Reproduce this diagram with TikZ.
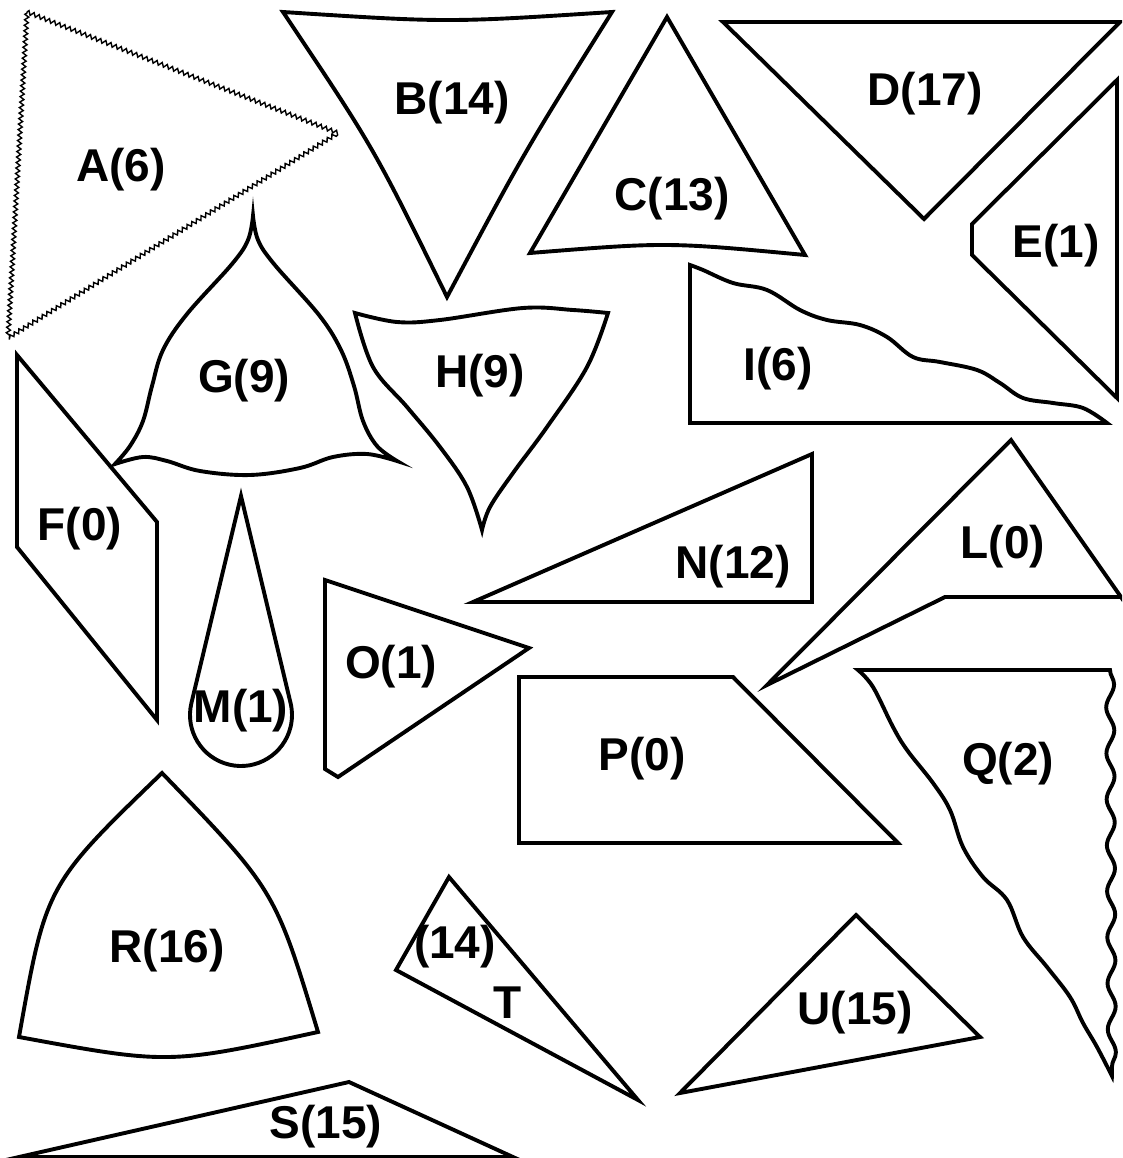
\documentclass[tikz,border=0pt]{standalone}
\usepackage{fontspec}
\setmainfont{Liberation Sans}
\usetikzlibrary{decorations.pathmorphing}
\tikzset{
  shp/.style={draw=black, line width=3.9pt, line join=miter, miter limit=12},
  zig/.style={draw=black, line width=1.4pt, decorate, decoration={zigzag, amplitude=2pt, segment length=5.5pt}},
  lbl/.style={font=\fontsize{46}{52}\selectfont\bfseries, inner sep=0pt, text=black}
}
\begin{document}
\begin{tikzpicture}[x=1pt, y=-1pt]
\useasboundingbox (0,0) rectangle (1122,1158);
\fill[white] (0,0) rectangle (1122,1158);
\clip (0,0) rectangle (1122,1158);

% A
\path[zig] (27,12) -- (338,133) -- (8,338) -- cycle;
\node[lbl] (lA) at (121,170) {A(6)};

% B
\path[shp] (283,12) .. controls (447.5,22.7) .. (612,12)
  .. controls (524.5,151.6) .. (447,297)
  .. controls (374,148) .. (283,12) -- cycle;
\node[lbl] (lB) at (452,103) {B(14)};

% C
\path[shp] (667,17) -- (805,255) .. controls (667,242) .. (530,253) -- cycle;
\node[lbl] (lC) at (672,199) {C(13)};

% D
\path[shp] (723,22) -- (1120,22) -- (924,219) -- cycle;
\node[lbl] (lD) at (925,94) {D(17)};

% E
\path[shp] (1117,80) -- (972,224) -- (972,255) -- (1117,398) -- cycle;
\node[lbl] (lE) at (1056,246) {E(1)};

% F
\path[shp] (17,355) -- (157,522) -- (157,720) -- (17,547) -- cycle;
\node[lbl] (lF) at (80,529) {F(0)};

% G
\path[shp] plot[smooth, tension=0.6] coordinates {(253,216) (258,240) (274,264) (319,315) (341,350) (354,386) (363,421) (377,446) (397,461)}
  -- plot[smooth, tension=0.6] coordinates {(397,461) (367,454) (333,457) (300,468) (250,475) (200,471) (167,461) (143,457) (115,464)}
  -- plot[smooth, tension=0.6] coordinates {(115,464) (130,446) (143,421) (152,386) (163,350) (187,314) (232,264) (248,240) (253,216)}
  -- cycle;
\node[lbl] (lG) at (244,381) {G(9)};

% H
\path[shp] plot[smooth, tension=0.6] coordinates {(355,313) (397,322) (440,320) (523,308) (573,310) (608,313)}
  -- plot[smooth, tension=0.6] coordinates {(608,313) (587,367) (547,427) (513,473) (490,507) (482,530)}
  -- plot[smooth, tension=0.6] coordinates {(482,530) (467,487) (440,447) (407,407) (373,367) (355,313)}
  -- cycle;
\node[lbl] (lH) at (480,376) {H(9)};

% I
\path[shp] (690,265) -- (690,423) -- (1107,423)
  -- plot[smooth, tension=0.6] coordinates {(1107,423) (1083,408) (1053,403) (1023,398) (1000,383) (977,370) (940,362) (913,357) (887,337) (860,325) (827,320) (800,310) (767,290) (733,283) (703,270) (690,265)}
  -- cycle;
\node[lbl] (lI) at (778,369) {I(6)};

% L
\path[shp] (1011,440) -- (1135,617) -- (1135,597) -- (945,597) -- (767,685) -- cycle;
\node[lbl] (lL) at (1003,547) {L(0)};

% M
\path[shp] (241,496) -- (191.4,703.1) arc[start angle=193.5, end angle=-13.5, radius=51] -- cycle;
\node[lbl] (lM) at (241,711) {M(1)};

% N
\path[shp] (473,602) -- (812,454) -- (812,602) -- cycle;
\node[lbl] (lN) at (733,567) {N(12)};

% O
\path[shp] (325,580) -- (529,648) -- (338,777) -- (325,769) -- cycle;
\node[lbl] (lO) at (391,667) {O(1)};

% P
\path[shp] (519,677) -- (733,677) -- (898,843) -- (519,843) -- cycle;
\node[lbl] (lP) at (642,759) {P(0)};

% Q
\path[shp, decoration={snake, amplitude=4pt, segment length=46pt}]
  (858,670) -- (1110,670) decorate { -- (1112,1076) }
  -- plot[smooth, tension=0.6] coordinates {(1112,1076) (1097,1047) (1083,1023) (1070,997) (1047,967) (1023,937) (1007,900) (983,877) (963,847) (950,810) (933,783) (907,750) (893,727) (873,687) (858,670)}
  -- cycle;
\node[lbl] (lQ) at (1008,764) {Q(2)};

% R
\path[shp] (162,773) .. controls (275,890) .. (318,1032)
  .. controls (168.5,1064.5) .. (19,1037)
  .. controls (46,885) .. (162,773) -- cycle;
\node[lbl] (lR) at (167,951) {R(16)};

% S
\path[shp] (19,1157) -- (349,1082) -- (513,1157) -- cycle;
\node[lbl] (lS) at (326,1127) {S(15)};

% T
\path[shp] (449,877) -- (638,1100) -- (396,970) -- cycle;
\node[lbl] (lT1) at (455,947) {(14)};
\node[lbl] (lT2) at (508,1003) {T};

% U
\path[shp] (856,915) -- (980,1037) -- (680,1093) -- cycle;
\node[lbl] (lU) at (855,1013) {U(15)};
\end{tikzpicture}
\end{document}
